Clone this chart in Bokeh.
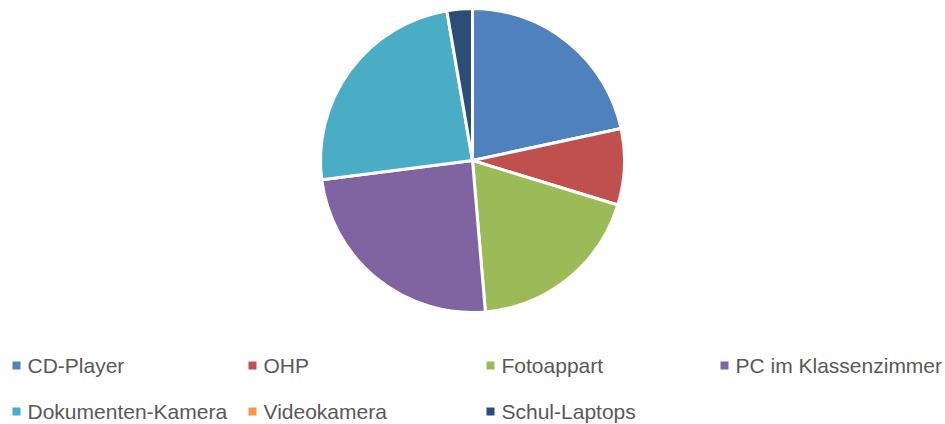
import math
from bokeh.plotting import figure
from bokeh.models import ColumnDataSource, Range1d
from bokeh.core.properties import value
from bokeh.embed import file_html
from bokeh.resources import INLINE

categories = ["CD-Player", "OHP", "Fotoappart", "PC im Klassenzimmer",
              "Dokumenten-Kamera", "Videokamera", "Schul-Laptops"]
counts = [8, 3, 7, 9, 9, 0, 1]
colors = ["#4F81BD", "#C0504D", "#9BBB59", "#8064A2",
          "#4BACC6", "#F79646", "#2C4D75"]

W, H = 945, 424
cx, cy, r = 472, H - 160, 152

total = sum(counts)
starts, ends = [], []
acc = 0.0
for c in counts:
    a0 = math.pi / 2 - 2 * math.pi * acc / total
    acc += c
    a1 = math.pi / 2 - 2 * math.pi * acc / total
    starts.append(a0)
    ends.append(a1)

pie_src = ColumnDataSource(dict(cat=categories, start=starts, end=ends, color=colors,
                                x=[cx] * len(counts), y=[cy] * len(counts)))

p = figure(width=W, height=H, output_backend="svg", toolbar_location=None,
           x_range=Range1d(0, W), y_range=Range1d(0, H), min_border=0)
p.axis.visible = False
p.grid.visible = False
p.outline_line_color = None
p.background_fill_color = "white"

nz = [i for i, c in enumerate(counts) if c > 0]
pie_nz = ColumnDataSource(dict(start=[starts[i] for i in nz], end=[ends[i] for i in nz],
                               color=[colors[i] for i in nz],
                               x=[cx] * len(nz), y=[cy] * len(nz)))
p.wedge(x="x", y="y", radius=r, start_angle="start", end_angle="end",
        direction="clock", fill_color="color", line_color="white", line_width=3,
        source=pie_nz)

# legend (manual grid: 4 columns, 2 rows)
col_x = [16, 252, 490, 724]
row_y = [H - 365, H - 411]
lx, ly, tx = [], [], []
for i in range(len(categories)):
    col, row = i % 4, i // 4
    lx.append(col_x[col])
    ly.append(row_y[row])
    tx.append(col_x[col] + 11)
leg_src = ColumnDataSource(dict(x=lx, y=ly, tx=tx, label=categories, color=colors))
p.scatter(x="x", y="y", marker="square", size=8, fill_color="color",
          line_color=None, source=leg_src)
p.text(x="tx", y="y", text="label", text_font=value("Liberation Sans"),
       text_font_size="21px", text_color="#595959", text_baseline="middle",
       text_align="left", source=leg_src)

open("out.html", "w").write(file_html(p, INLINE))
